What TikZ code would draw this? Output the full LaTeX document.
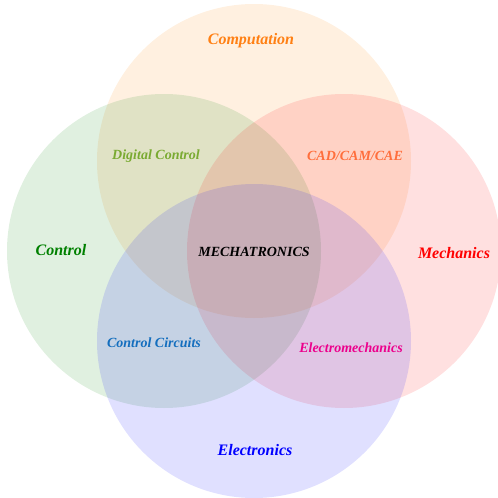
\documentclass[tikz,border=0pt]{standalone}
\usepackage{fontspec}
\setmainfont{Liberation Serif}
\usetikzlibrary{positioning}
\definecolor{compcol}{RGB}{255,128,20}
\definecolor{ctrlcol}{RGB}{0,128,0}
\definecolor{digicol}{RGB}{122,170,50}
\definecolor{cadcol}{RGB}{255,110,60}
\definecolor{circcol}{RGB}{20,110,190}

\begin{document}
\begin{tikzpicture}[x=1pt,y=-1pt,
  disc/.style={fill opacity=0.12},
  field/.style={font=\fontsize{16}{19}\selectfont\bfseries\itshape},
  overlap/.style={font=\fontsize{14}{17}\selectfont\bfseries\itshape}]
\useasboundingbox (0,0) rectangle (498,498);
\fill [disc, fill=orange] (254,161) circle [radius=157pt];
\fill [disc, fill=green!50!black] (164,251) circle [radius=157pt];
\fill [disc, fill=red] (344,251) circle [radius=157pt];
\fill [disc, fill=blue] (254,341) circle [radius=157pt];
\node [field, text=compcol] (computation) at (251,41) {Computation};
\node [field, text=ctrlcol] (control) at (61,250) {Control};
\node [field, text=red] (mechanics) at (454,253) {Mechanics};
\node [field, text=blue] (electronics) at (255,450) {Electronics};
\node [overlap, text=digicol] (digital) at (156,156) {Digital Control};
\node [overlap, text=cadcol] (cad) at (355,156) {CAD/CAM/CAE};
\node [overlap] (mecha) at (254,252) {MECHATRONICS};
\node [overlap, text=circcol] (circuits) at (154,343) {Control Circuits};
\node [overlap, text=magenta] (electromech) at (351,348) {Electromechanics};
\end{tikzpicture}
\end{document}
